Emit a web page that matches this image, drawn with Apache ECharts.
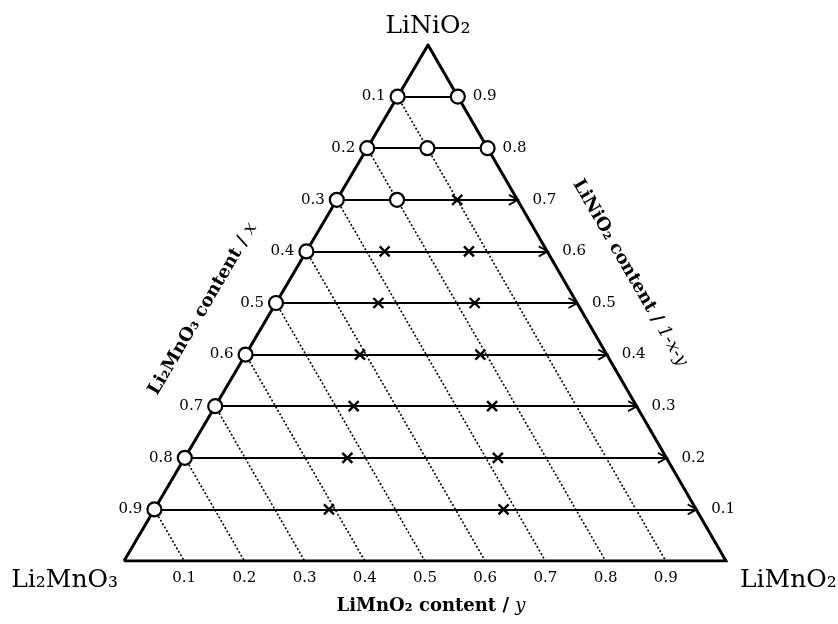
<!DOCTYPE html>
<html><head><meta charset="utf-8">
<script src="https://cdn.jsdelivr.net/npm/echarts@6/dist/echarts.min.js"></script>
<style>html,body{margin:0;padding:0;background:#fff}#c{width:838px;height:624px}</style>
</head><body><div id="c"></div>
<script>
// ---- data ----
const vertexNames = ['Li₂MnO₃', 'LiMnO₂', 'LiNiO₂'];
const tickValues = [0.1, 0.2, 0.3, 0.4, 0.5, 0.6, 0.7, 0.8, 0.9];
const tickLabels = ['0.1', '0.2', '0.3', '0.4', '0.5', '0.6', '0.7', '0.8', '0.9'];
// LiNiO2 content (1-x-y) of the tie lines
const lineLevels = [0.9, 0.8, 0.7, 0.6, 0.5, 0.4, 0.3, 0.2, 0.1];
const arrowLevels = [0.7, 0.6, 0.5, 0.4, 0.3, 0.2, 0.1];
// open circles: x = Li2MnO3 content, y = LiMnO2 content
const circleX = [0.1, 0.2, 0.3, 0.4, 0.5, 0.6, 0.7, 0.8, 0.9, 0.0, 0.1, 0.0, 0.2];
const circleY = [0.0, 0.0, 0.0, 0.0, 0.0, 0.0, 0.0, 0.0, 0.0, 0.1, 0.1, 0.2, 0.1];
// crosses
const crossX = [0.10, 0.27, 0.13, 0.33, 0.17, 0.41, 0.21, 0.47, 0.24, 0.53, 0.28, 0.61, 0.32];
const crossY = [0.20, 0.13, 0.27, 0.17, 0.33, 0.19, 0.39, 0.23, 0.46, 0.27, 0.52, 0.29, 0.58];

// ---- ternary -> cartesian (barycentric on the triangle vertices) ----
const APEX_U = 0.505;
function tern(x, y) { const h = 1 - x - y; return [y + h * APEX_U, h]; }

const FONT = 'DejaVu Serif';
const chart = echarts.init(document.getElementById('c'), null, { renderer: 'canvas' });

const opaque = { opacity: 1 };
const option = {
  animation: false,
  backgroundColor: '#ffffff',
  grid: { left: 124, right: 112, top: 45, bottom: 63 },
  xAxis: { type: 'value', min: 0, max: 1, show: false },
  yAxis: { type: 'value', min: 0, max: 1, show: false },
  series: [
    { // dotted constant-x lines
      type: 'lines', coordinateSystem: 'cartesian2d', silent: true, z: 1,
      data: tickValues.map(x => ({ coords: [tern(x, 0), tern(x, 1 - x)] })),
      lineStyle: { color: '#000', width: 1.6, type: [2, 2], opacity: 1 }
    },
    { // solid tie lines
      type: 'lines', coordinateSystem: 'cartesian2d', silent: true, z: 2,
      data: lineLevels.map(h => ({ coords: [tern(1 - h, 0), tern(0, 1 - h)] })),
      lineStyle: { color: '#000', width: 1.8, type: 'solid', opacity: 1 }
    },
    { // triangle
      type: 'line', silent: true, z: 3, symbol: 'none',
      data: [tern(1, 0), tern(0, 1), tern(0, 0), tern(1, 0)],
      lineStyle: { color: '#000', width: 3, join: 'miter', miterLimit: 10, opacity: 1 }
    },
    { // arrow heads
      type: 'scatter', silent: true, z: 4,
      symbol: 'path://M0,0L10,6L0,12', symbolSize: [9, 10], symbolOffset: [-4, 0],
      data: arrowLevels.map(h => tern(0, 1 - h)),
      itemStyle: { color: 'rgba(0,0,0,0)', borderColor: '#000', borderWidth: 1.8, opacity: 1 }
    },
    { // crosses
      type: 'scatter', silent: true, z: 5,
      symbol: 'path://M0,0L10,10M10,0L0,10', symbolSize: 10,
      data: crossX.map((x, i) => tern(x, crossY[i])),
      itemStyle: { color: 'rgba(0,0,0,0)', borderColor: '#000', borderWidth: 2.4, opacity: 1 }
    },
    { // open circles
      type: 'scatter', silent: true, z: 6,
      symbol: 'circle', symbolSize: 14,
      data: circleX.map((x, i) => tern(x, circleY[i])),
      itemStyle: { color: '#fff', borderColor: '#000', borderWidth: 2.2, opacity: 1 }
    },
    { // left tick labels (Li2MnO3 content x)
      type: 'scatter', silent: true, symbolSize: 0, z: 7, itemStyle: opaque,
      data: tickValues.map(x => tern(x, 0)),
      label: { show: true, position: 'left', distance: 12, color: '#000', opacity: 1,
        fontFamily: FONT, fontSize: 15, formatter: p => tickLabels[p.dataIndex] }
    },
    { // right tick labels (LiNiO2 content)
      type: 'scatter', silent: true, symbolSize: 0, z: 7, itemStyle: opaque,
      data: lineLevels.map(h => tern(0, 1 - h)),
      label: { show: true, position: 'right', distance: 15, color: '#000', opacity: 1,
        fontFamily: FONT, fontSize: 15, formatter: p => tickLabels[8 - p.dataIndex] }
    },
    { // bottom tick labels (LiMnO2 content y)
      type: 'scatter', silent: true, symbolSize: 0, z: 7, itemStyle: opaque,
      data: tickValues.map(y => tern(1 - y, y)),
      label: { show: true, position: 'bottom', distance: 10, color: '#000', opacity: 1,
        fontFamily: FONT, fontSize: 15, formatter: p => tickLabels[p.dataIndex] }
    },
    { // vertex labels
      type: 'scatter', silent: true, symbolSize: 0, z: 7, itemStyle: opaque,
      data: [
        { value: tern(1, 0), label: { position: 'left', distance: 6, offset: [0, 19] } },
        { value: tern(0, 1), label: { position: 'right', distance: 14, offset: [0, 19] } },
        { value: tern(0, 0), label: { position: 'top', distance: 6 } }
      ],
      label: { show: true, color: '#000', opacity: 1, fontFamily: FONT, fontSize: 25,
        formatter: p => vertexNames[p.dataIndex] }
    }
  ],
  graphic: [
    { type: 'text', x: 431, y: 606, style: {
        text: '{b|LiMnO₂ content / }{i|y}', align: 'center', verticalAlign: 'middle',
        rich: { b: { fontFamily: FONT, fontSize: 18, fontWeight: 'bold', fill: '#000' },
                i: { fontFamily: FONT, fontSize: 18, fontStyle: 'italic', fill: '#000' } } } },
    { type: 'text', x: 203, y: 309, rotation: 59.5 * Math.PI / 180, style: {
        text: '{b|Li₂MnO₃ content / }{i|x}', align: 'center', verticalAlign: 'middle',
        rich: { b: { fontFamily: FONT, fontSize: 18, fontWeight: 'bold', fill: '#000' },
                i: { fontFamily: FONT, fontSize: 18, fontStyle: 'italic', fill: '#000' } } } },
    { type: 'text', x: 630, y: 273, rotation: -60 * Math.PI / 180, style: {
        text: '{b|LiNiO₂ content / }{i|1-x-y}', align: 'center', verticalAlign: 'middle',
        rich: { b: { fontFamily: FONT, fontSize: 18, fontWeight: 'bold', fill: '#000' },
                i: { fontFamily: FONT, fontSize: 18, fontStyle: 'italic', fill: '#000' } } } }
  ]
};
chart.setOption(option);
</script>
</body></html>
